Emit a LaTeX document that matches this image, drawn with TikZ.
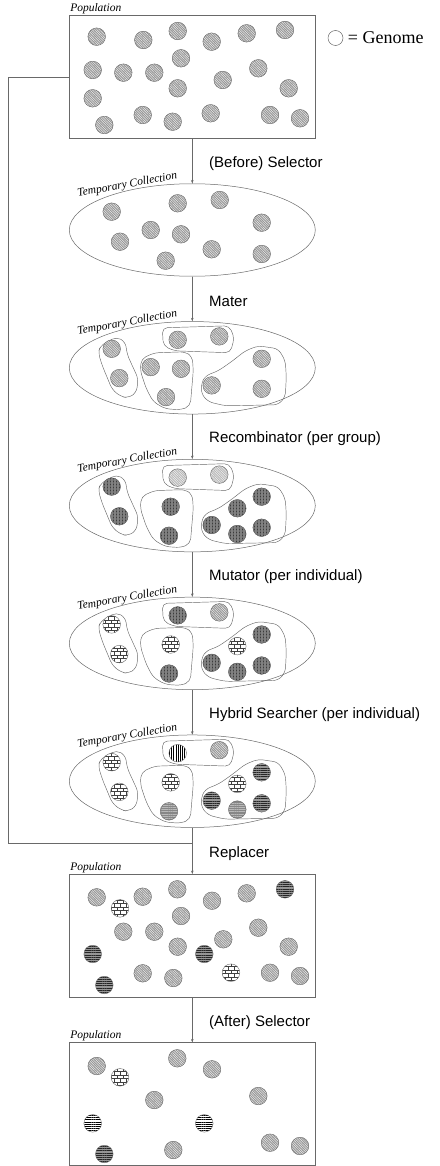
\documentclass[tikz,border=0pt]{standalone}
\usepackage{fontspec}
\setmainfont{Liberation Serif}
\newfontfamily\stepfont{Liberation Sans}
\usetikzlibrary{arrows.meta, positioning, shapes.geometric, patterns, patterns.meta}
\definecolor{edgegray}{RGB}{105,105,105}
\definecolor{genomegray}{RGB}{150,150,150}
\definecolor{lightgenome}{RGB}{185,185,185}
\definecolor{darkgenome}{RGB}{60,60,60}
\pgfdeclarepatternformonly{tinybricks}{\pgfqpoint{-0.5pt}{-0.5pt}}{\pgfqpoint{6.5pt}{7.5pt}}{\pgfqpoint{6pt}{7pt}}{
  \pgfsetlinewidth{0.4pt}
  \pgfpathmoveto{\pgfqpoint{0pt}{0pt}}\pgfpathlineto{\pgfqpoint{6pt}{0pt}}
  \pgfpathmoveto{\pgfqpoint{0pt}{3.5pt}}\pgfpathlineto{\pgfqpoint{6pt}{3.5pt}}
  \pgfpathmoveto{\pgfqpoint{0pt}{0pt}}\pgfpathlineto{\pgfqpoint{0pt}{3.5pt}}
  \pgfpathmoveto{\pgfqpoint{3pt}{3.5pt}}\pgfpathlineto{\pgfqpoint{3pt}{7pt}}
  \pgfusepath{stroke}}

\begin{document}
\begin{tikzpicture}[x=1pt, y=-1pt,
    popbox/.style={rectangle, draw=edgegray, line width=0.5pt, minimum width=246pt, minimum height=122.6pt, inner sep=0pt},
    tcoll/.style={ellipse, draw=edgegray, line width=0.5pt, minimum width=246pt, minimum height=92.5pt, inner sep=0pt},
    blob/.style={draw=edgegray, line width=0.45pt, rounded corners=5pt},
    flow/.style={-{Stealth[length=3.5pt, width=2.6pt]}, line width=0.5pt, color=edgegray},
    link/.style={line width=0.5pt, color=edgegray},
    poptag/.style={inner sep=1pt, font=\fontsize{11.5}{13}\selectfont\itshape},
    steptag/.style={inner sep=0pt, anchor=west, font=\stepfont\fontsize{15}{18}\selectfont},
    gbase/.style={draw=edgegray, line width=0.4pt},
    gstd/.style={gbase, preaction={fill=genomegray}, pattern={Lines[angle=-45, distance=1.7pt, line width=0.5pt]}, pattern color=gray!15},
    glight/.style={gbase, preaction={fill=lightgenome}, pattern={Lines[angle=-45, distance=1.7pt, line width=0.5pt]}, pattern color=gray!10},
    gdark/.style={gbase, preaction={fill=darkgenome}, pattern={Hatch[angle=0, distance=1.5pt, line width=0.3pt]}, pattern color=black!50},
    gbrick/.style={gbase, preaction={fill=white}, pattern=tinybricks, pattern color=black!75},
    ghline/.style={gbase, preaction={fill=genomegray}, pattern={Lines[angle=0, distance=2.2pt, line width=0.45pt]}, pattern color=black!85},
    ghlinew/.style={gbase, preaction={fill=white}, pattern={Lines[angle=0, distance=2.2pt, line width=0.8pt]}, pattern color=black},
    ggray/.style={gbase, preaction={fill=genomegray!90!black}, pattern={Lines[angle=0, distance=2.2pt, line width=0.6pt]}, pattern color=gray!55},
    gvline/.style={gbase, preaction={fill=white}, pattern={Lines[angle=90, distance=2.2pt, line width=0.8pt]}, pattern color=black}
]
\useasboundingbox (0,0) rectangle (439,1166);

\node[popbox] (pop1) at (192.3,77) {};
\node[tcoll] (tc1) at (192.3,230) {};
\node[tcoll] (tc2) at (192.3,367.8) {};
\node[tcoll] (tc3) at (192.3,505.6) {};
\node[tcoll] (tc4) at (192.3,643.4) {};
\node[tcoll] (tc5) at (192.3,781.2) {};
\node[popbox] (pop2) at (192.3,935.6) {};
\node[popbox] (pop3) at (192.3,1104) {};

\foreach \p in {pop1,pop2,pop3}
    \node[poptag, above right=0pt of \p.north west] (\p-tag) {Population};
\foreach \c in {tc1,tc2,tc3,tc4,tc5}
    \node[poptag, rotate=10] (\c-tag) at ([shift={(-65,-45)}]\c.center) {Temporary Collection};

\node[steptag] (step1) at ([xshift=16.7pt, yshift=20pt]tc1.north) {(Before) Selector};
\node[steptag] (step2) at ([xshift=16.7pt, yshift=20pt]tc2.north) {Mater};
\node[steptag] (step3) at ([xshift=16.7pt, yshift=20pt]tc3.north) {Recombinator (per group)};
\node[steptag] (step4) at ([xshift=16.7pt, yshift=20pt]tc4.north) {Mutator (per individual)};
\node[steptag] (step5) at ([xshift=16.7pt, yshift=20pt]tc5.north) {Hybrid Searcher (per individual)};
\node[steptag] (step6) at ([xshift=16.7pt, yshift=20pt]pop2.north) {Replacer};
\node[steptag] (step7) at ([xshift=16.7pt, yshift=20pt]pop3.north) {(After) Selector};

\draw[flow] (pop1) -- (tc1);
\draw[flow] (tc1) -- (tc2);
\draw[flow] (tc2) -- (tc3);
\draw[flow] (tc3) -- (tc4);
\draw[flow] (tc4) -- (tc5);
\draw[flow] (tc5) -- (pop2);
\draw[flow] (pop2) -- (pop3);
\coordinate (merge) at (192.3,843.3);
\draw[link] (pop1.west) -- ++(-61,0) |- (merge);

\node[circle, draw=edgegray, line width=0.5pt, minimum size=15pt, inner sep=0pt] (key) at (335.5,38) {};
\node[anchor=west, inner sep=0pt, font=\fontsize{18}{21}\selectfont] (keytext) at ([xshift=4.5pt]key.east) {= Genome};

\foreach \c in {tc2,tc3,tc4,tc5} {
  \begin{scope}[shift={(\c.center)}]
    \draw[blob] (-92,-22) -- (-76,-31) -- (-67,-26) -- (-65,-13) -- (-54,11) -- (-56,25) -- (-64,30) -- (-71,29) -- (-80,22) -- (-90,-2) -- (-94,-15) -- cycle;
    \draw[blob] (-30,-40) -- (37,-42) -- (42,-30) -- (38,-15) -- (-18,-17) -- (-29,-22) -- cycle;
    \draw[blob] (-51,-9) -- (-38,-15) -- (-7,-16) -- (0,-11) -- (1,3) -- (-1,26) -- (-2,38) -- (-11,42) -- (-27,41) -- (-39,34) -- (-46,21) -- (-52,3) -- cycle;
    \draw[blob] (9,16) -- (13,8) -- (26,3) -- (39,-6) -- (53,-17) -- (66,-22) -- (86,-19) -- (93,-7) -- (94,9) -- (93,29) -- (86,37) -- (33,38) -- (16,34) -- (9,26) -- cycle;
  \end{scope}
}

\begin{scope}[shift={(pop1.center)}]
\foreach \x/\y in {-95.6/-40.3, -49/-37, -14.6/-46, 19.4/-35.3, 54.4/-43.7, 92.7/-47,
    -11.3/-18.7, -99.6/-7, -69/-4.3, -38/-4.3, 30.4/3, 66/-8.7, -14.6/11.3, 96.4/11.3, -99.6/21.3,
    -88/48, -49.6/38, -19.6/44.7, 18.4/36.3, 77.7/38, 107.7/41.3}
    \path[gstd] (\x,\y) circle[radius=8.8pt];
\end{scope}

\begin{scope}[shift={(tc1.center)}]
\foreach \x/\y in {-80.6/-18.3, -14.6/-26.7, 27.4/-30, 69.4/-7.3, -72.3/11.7, -41.6/0, -11.3/4.3, 19.4/19.3, 69.4/24, -26.6/30.7}
    \path[gstd] (\x,\y) circle[radius=8.8pt];
\end{scope}

\begin{scope}[shift={(tc2.center)}]
\foreach \x/\y in {-80.6/-19, -73/10.3, -14.6/-28, 27/-31.4, -41.6/-0.7, -11.3/1, -26.3/29.3, 69.4/-9, 19.4/17.6, 69.4/21}
    \path[gstd] (\x,\y) circle[radius=8.8pt];
\end{scope}

\begin{scope}[shift={(tc3.center)}]
\foreach \x/\y/\kind in {-80.6/-19/gdark, -73/10.7/gdark, -14.6/-28/glight, 27/-31/glight, -21.6/1.1/gdark, -23.3/30.1/gdark,
    69.4/-8.9/gdark, 45/2.7/gdark, 19.4/19.4/gdark, 45/28.4/gdark, 69.4/22.1/gdark}
    \path[\kind] (\x,\y) circle[radius=8.8pt];
\end{scope}

\begin{scope}[shift={(tc4.center)}]
\foreach \x/\y/\kind in {-80.6/-19/gbrick, -73/10.7/gbrick, -14.6/-28/gdark, 27/-31/gstd, -21.6/1.1/gbrick, -23.3/30.1/gdark,
    69.4/-8.9/gdark, 45/2.7/gbrick, 19.4/19.4/gdark, 45/28.4/gdark, 69.4/22.1/gdark}
    \path[\kind] (\x,\y) circle[radius=8.8pt];
\end{scope}

\begin{scope}[shift={(tc5.center)}]
\foreach \x/\y/\kind in {-80.6/-19/gbrick, -73/10.7/gbrick, -14.6/-28/gvline, 27/-31/gstd, -21.6/1.1/gbrick, -23.3/30.1/ggray,
    69.4/-8.9/ghline, 45/2.7/gbrick, 19.4/19.4/ghline, 45/28.4/ggray, 69.4/22.1/ghline}
    \path[\kind] (\x,\y) circle[radius=8.8pt];
\end{scope}

\begin{scope}[shift={(pop2.center)}]
\foreach \x/\y/\kind in {-95.6/-38.3/gstd, -72.3/-27.3/gbrick, -49.6/-38.9/gstd, -15/-46.3/gstd, 19.7/-34.9/gstd, 54.4/-42.3/gstd,
    92.7/-46.3/ghline, -11.3/-19.6/gstd, -69/-3.9/gstd, -38/-3.9/gstd, 66/-7.9/gstd, 31/3.7/gstd, -14.6/11.1/gstd,
    96.4/11.1/gstd, -99.6/18.4/ghline, 12/18.4/ghline, -49.6/37.7/gstd, -19/42.4/gstd, 38.7/37.1/gbrick,
    77.7/37.1/gstd, 107.7/40.4/gstd, -88/49.4/ghline}
    \path[\kind] (\x,\y) circle[radius=8.8pt];
\end{scope}

\begin{scope}[shift={(pop3.center)}]
\foreach \x/\y/\kind in {-95.6/-38/gstd, -72.3/-26.7/gbrick, -15/-45.7/gstd, 19.7/-34.7/gstd, -38/-4/gstd, 66/-8/gstd,
    -99.6/19.3/ghlinew, 12/19.3/ghlinew, -88/50/ghline, -19/46/gstd, 77.7/38.7/gstd, 107.7/42/gstd}
    \path[\kind] (\x,\y) circle[radius=8.8pt];
\end{scope}
\end{tikzpicture}
\end{document}
